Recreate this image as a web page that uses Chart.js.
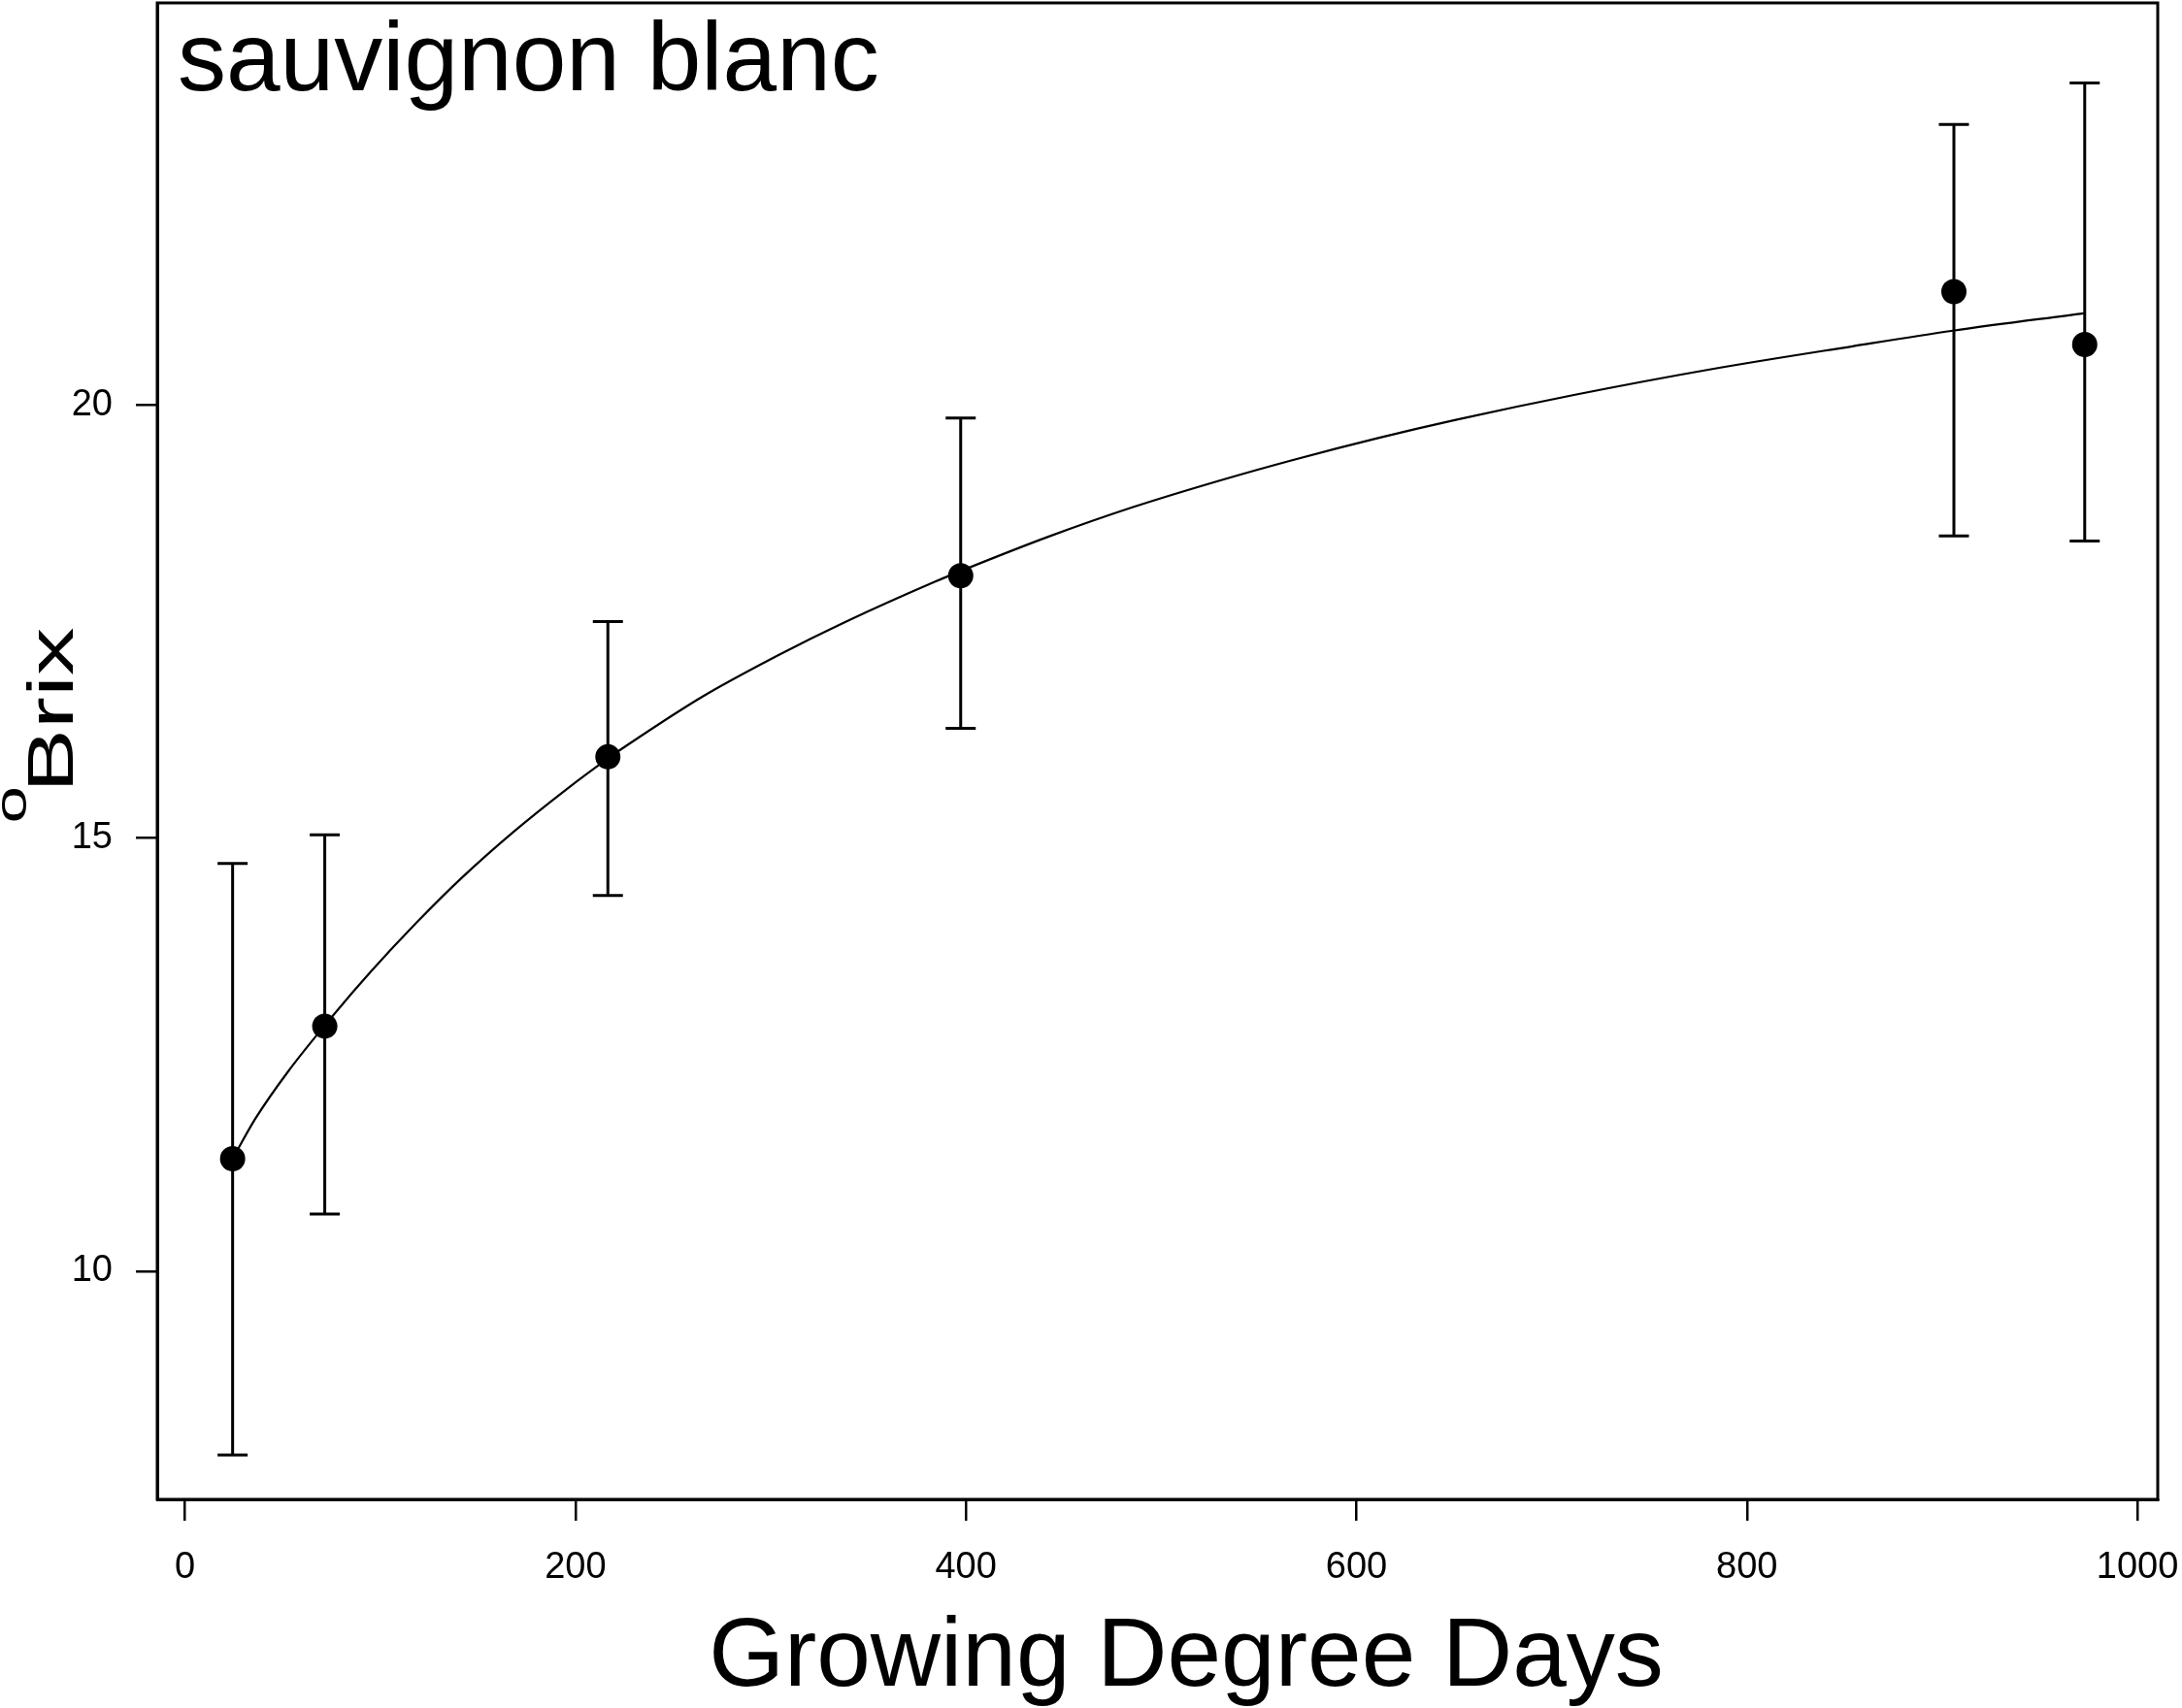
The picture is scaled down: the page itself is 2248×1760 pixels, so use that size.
<!DOCTYPE html>
<html>
<head>
<meta charset="utf-8">
<script src="https://cdn.jsdelivr.net/npm/chart.js@4.4.1/dist/chart.umd.min.js"></script>
<style>
  html, body { margin: 0; padding: 0; background: #fff; }
  canvas { display: block; }
</style>
</head>
<body>
<canvas id="c" width="2248" height="1760" style="width:2248px;height:1760px"></canvas>
<script>
// ---- data ----
const panelLabel = 'sauvignon blanc';
const xTitle = 'Growing Degree Days';
const yTitle = 'Brix';            // preceded by a superscript degree mark
const gdd       = [24.4, 71.6, 216.6, 397.3, 906, 973];
const brixMean  = [11.30, 12.83, 15.94, 18.03, 21.31, 20.70];
const brixUpper = [14.71, 15.04, 17.50, 19.85, 23.24, 23.72];
const brixLower = [7.88, 10.66, 14.34, 16.27, 18.49, 18.43];
const fitGdd  = [24.4, 36, 52.6, 75.7, 95.6, 118.8, 142.1, 168.6, 195.1, 216.6, 224.9, 264.7, 304.5, 337.6, 384.0, 402.3, 442.1, 485.2, 531.6, 568.0, 611.1, 650.9, 712.0, 783.0, 854.1, 905.5, 972.6];
const fitBrix = [11.30, 11.76, 12.30, 12.95, 13.47, 14.03, 14.55, 15.08, 15.56, 15.92, 16.05, 16.63, 17.12, 17.49, 17.96, 18.13, 18.48, 18.82, 19.14, 19.37, 19.62, 19.83, 20.12, 20.42, 20.68, 20.86, 21.06];
const xTicks = [0, 200, 400, 600, 800, 1000];
const yTicks = [10, 15, 20];
const xRange = [-14.2, 1010.4];
const yRange = [7.367, 24.644];

const FONT = "'Liberation Sans', Arial, sans-serif";
Chart.defaults.font.family = FONT;
Chart.defaults.color = '#000';

const errorBars = {
  id: 'errorBars',
  afterDatasetsDraw(chart) {
    const {ctx, scales: {x, y}} = chart;
    ctx.save();
    ctx.strokeStyle = '#000';
    ctx.lineWidth = 3;
    const cap = 15.5;
    for (let i = 0; i < gdd.length; i++) {
      const px = x.getPixelForValue(gdd[i]);
      const pt = y.getPixelForValue(brixUpper[i]);
      const pb = y.getPixelForValue(brixLower[i]);
      ctx.beginPath();
      ctx.moveTo(px, pt); ctx.lineTo(px, pb);
      ctx.moveTo(px - cap, pt); ctx.lineTo(px + cap, pt);
      ctx.moveTo(px - cap, pb); ctx.lineTo(px + cap, pb);
      ctx.stroke();
    }
    ctx.restore();
  }
};

const frameAndLabels = {
  id: 'frameAndLabels',
  afterDraw(chart) {
    const {ctx, chartArea: a} = chart;
    ctx.save();
    ctx.strokeStyle = '#000';
    ctx.lineWidth = 3;
    ctx.strokeRect(a.left, a.top, a.right - a.left, a.bottom - a.top);

    ctx.fillStyle = '#000';
    ctx.textBaseline = 'alphabetic';

    // panel label inside the plot box
    ctx.textAlign = 'left';
    ctx.font = '100px ' + FONT;
    ctx.fillText(panelLabel, 183, 93);

    // x axis title
    ctx.textAlign = 'center';
    ctx.font = '100px ' + FONT;
    ctx.fillText(xTitle, 1222, 1737);

    // rotated y title: superscript "o" + "Brix"
    ctx.textAlign = 'left';
    ctx.translate(75, 847);
    ctx.rotate(-Math.PI / 2);
    ctx.scale(1.5, 1);
    ctx.font = '46px ' + FONT;
    ctx.fillText('o', -1, -48);
    ctx.font = '66px ' + FONT;
    ctx.fillText(yTitle, 20, 0);
    ctx.restore();
  }
};

new Chart(document.getElementById('c'), {
  type: 'scatter',
  data: {
    datasets: [
      {
        label: 'fit',
        data: fitGdd.map((v, i) => ({x: v, y: fitBrix[i]})),
        showLine: true,
        borderColor: '#000',
        borderWidth: 2.2,
        pointRadius: 0,
        cubicInterpolationMode: 'monotone',
        order: 2
      },
      {
        label: 'mean',
        data: gdd.map((v, i) => ({x: v, y: brixMean[i]})),
        backgroundColor: '#000',
        borderColor: '#000',
        borderWidth: 0,
        pointRadius: 13,
        pointHoverRadius: 13,
        order: 1
      }
    ]
  },
  options: {
    responsive: false,
    devicePixelRatio: 1,
    animation: false,
    layout: { autoPadding: false, padding: { top: 3, right: 25, left: 0, bottom: 0 } },
    plugins: { legend: { display: false }, tooltip: { enabled: false } },
    scales: {
      x: {
        type: 'linear',
        min: xRange[0], max: xRange[1],
        afterBuildTicks: s => { s.ticks = xTicks.map(v => ({value: v})); },
        afterFit: s => { s.height = 215; s.paddingLeft = 0; s.paddingRight = 0; s.paddingTop = 0; s.paddingBottom = 0; },
        grid: { drawOnChartArea: false, drawTicks: true, tickLength: 22, color: '#000', lineWidth: 2.5 },
        border: { display: true, color: '#000', width: 3 },
        ticks: { color: '#000', font: { size: 38 }, padding: 26, maxRotation: 0, autoSkip: false, callback: v => String(v) },
        title: { display: false }
      },
      y: {
        type: 'linear',
        min: yRange[0], max: yRange[1],
        afterBuildTicks: s => { s.ticks = yTicks.map(v => ({value: v})); },
        afterFit: s => { s.width = 162; s.paddingLeft = 0; s.paddingRight = 0; s.paddingTop = 0; s.paddingBottom = 0; },
        grid: { drawOnChartArea: false, drawTicks: true, tickLength: 22, color: '#000', lineWidth: 2.5 },
        border: { display: true, color: '#000', width: 3 },
        ticks: { color: '#000', font: { size: 38 }, padding: 24, callback: v => String(v) },
        title: { display: false }
      }
    }
  },
  plugins: [errorBars, frameAndLabels]
});
</script>
</body>
</html>
